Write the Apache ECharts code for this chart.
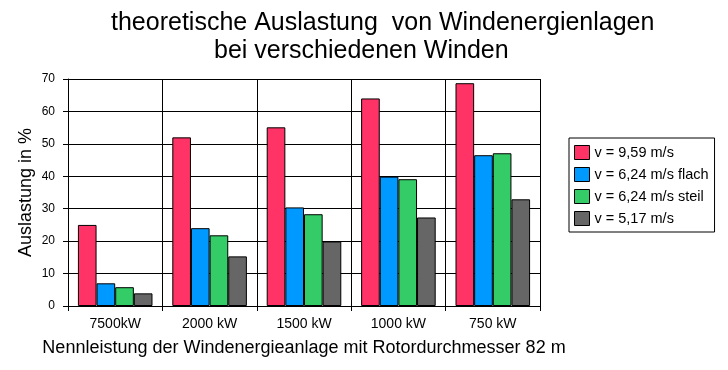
<!DOCTYPE html>
<html><head><meta charset="utf-8">
<script src="https://cdn.jsdelivr.net/npm/echarts@6/dist/echarts.min.js"></script>
<style>html,body{margin:0;padding:0;background:#fff}#c{width:728px;height:370px}</style>
</head><body><div id="c"></div>
<script>
var categories = ['7500kW', '2000 kW', '1500 kW', '1000 kW', '750 kW'];
var seriesNames = ['v = 9,59 m/s', 'v = 6,24 m/s flach', 'v = 6,24 m/s steil', 'v = 5,17 m/s'];
var v959 = [25, 52, 55.1, 64, 68.7];
var v624flach = [7, 24, 30.4, 39.9, 46.5];
var v624steil = [5.8, 21.8, 28.3, 39.1, 47.1];
var v517 = [3.9, 15.3, 19.9, 27.3, 32.9];
var colors = ['#FF3366', '#0099FF', '#33CC66', '#666666'];
var FONT = 'Liberation Sans, Arial, sans-serif';

var chart = echarts.init(document.getElementById('c'), null, {renderer: 'canvas'});
var data = [v959, v624flach, v624steil, v517];
var series = data.map(function (d, i) {
  return {
    name: seriesNames[i], type: 'bar', data: d,
    barGap: '0%', barCategoryGap: '21%',
    itemStyle: {color: colors[i], borderColor: '#000', borderWidth: 1},
    animation: false
  };
});
chart.setOption({
  backgroundColor: '#fff',
  animation: false,
  title: [
    {text: 'theoretische Auslastung  von Windenergienlagen', left: 111, top: 11, padding: 0,
     textStyle: {fontFamily: FONT, fontSize: 25, fontWeight: 'normal', color: '#000'}},
    {text: 'bei verschiedenen Winden', left: 214, top: 39, padding: 0,
     textStyle: {fontFamily: FONT, fontSize: 25, fontWeight: 'normal', color: '#000'}}
  ],
  legend: {
    orient: 'vertical', left: 569, top: 138,
    padding: [7, 6, 6, 5], itemGap: 7, itemWidth: 15, itemHeight: 14,
    borderColor: '#000', borderWidth: 1,
    textStyle: {fontFamily: FONT, fontSize: 14.5, lineHeight: 14, color: '#000'},
    data: seriesNames.map(function (n) { return {name: n, icon: 'rect', itemStyle: {borderColor: '#000', borderWidth: 1}}; })
  },
  grid: {left: 68, right: 188, top: 79, bottom: 64, containLabel: false},
  xAxis: {
    type: 'category', data: categories,
    name: 'Nennleistung der Windenergieanlage mit Rotordurchmesser 82 m',
    nameLocation: 'middle', nameGap: 33,
    nameTextStyle: {fontFamily: FONT, fontSize: 18, color: '#000'},
    axisLine: {lineStyle: {color: '#000', width: 1}},
    axisTick: {show: true, length: 5, lineStyle: {color: '#000'}},
    axisLabel: {fontFamily: FONT, fontSize: 14, color: '#000', margin: 11},
    splitLine: {show: true, lineStyle: {color: '#000', width: 1}}
  },
  yAxis: {
    type: 'value', min: 0, max: 70, interval: 10,
    name: 'Auslastung in %', nameLocation: 'middle', nameGap: 33, nameMoveOverlap: false,
    nameTextStyle: {fontFamily: FONT, fontSize: 18, color: '#000'},
    axisLine: {show: true, lineStyle: {color: '#000', width: 1}},
    axisTick: {show: true, length: 5, lineStyle: {color: '#000'}},
    axisLabel: {fontFamily: FONT, fontSize: 12, color: '#000', margin: 13},
    splitLine: {show: true, lineStyle: {color: '#000', width: 1}}
  },
  series: series
});
</script></body></html>
